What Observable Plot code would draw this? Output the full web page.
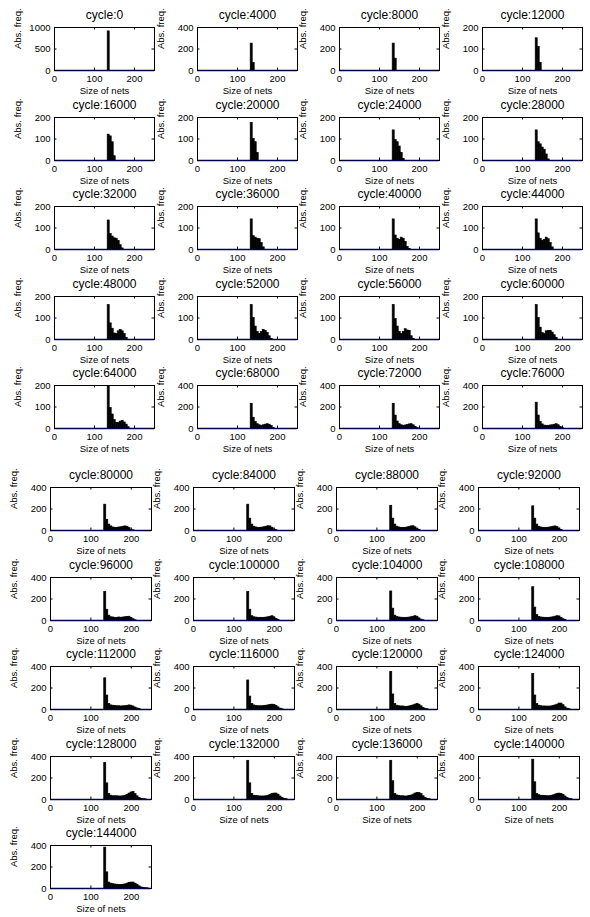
<!DOCTYPE html>
<html><head><meta charset="utf-8">
<script src="https://cdn.jsdelivr.net/npm/d3@7"></script>
<script src="https://cdn.jsdelivr.net/npm/@observablehq/plot@0.6"></script>
<style>
body{margin:0;background:#fff;}
#chart{position:relative;width:590px;height:917px;overflow:hidden;background:#fff;}
#chart svg{position:absolute;overflow:visible;background:transparent;}
</style></head><body><div id="chart"></div>
<script>
// ---- data ----
const cycles = [0,4000,8000,12000,16000,20000,24000,28000,32000,36000,40000,44000,48000,52000,56000,60000,64000,68000,72000,76000,
  80000,84000,88000,92000,96000,100000,104000,108000,112000,116000,120000,124000,128000,132000,136000,140000,144000];
const binStart = [133,138,143,148,153,158,163,168,173,178,183,188,193,198,203,208,213,218,223,228,233,238,243,248];
const binWidth = 5;
const yMax = [1000,400,400,200, 200,200,200,200, 200,200,200,200, 200,200,200,200, 200,400,400,400,
  400,400,400,400, 400,400,400,400, 400,400,400,400, 400,400,400,400, 400];
const xTicks = [0,100,200];
const yTicks1000 = [0,500,1000];
const yTicks400 = [0,200,400];
const yTicks200 = [0,100,200];

const h0 = [910];
const h4000 = [250,70];
const h8000 = [250,110];
const h12000 = [150,110,35];
const h16000 = [120,112,85,20];
const h20000 = [175,100,85,35];
const h24000 = [140,95,85,65,35,8];
const h28000 = [140,85,75,60,50,28,5];
const h32000 = [135,72,60,52,50,40,20,5];
const h36000 = [140,62,55,50,48,30,10];
const h40000 = [140,65,50,45,55,50,35,12,2];
const h44000 = [140,75,50,40,45,55,48,30,10];
const h48000 = [160,75,50,28,25,38,45,38,25,8];
const h52000 = [160,100,60,35,25,35,45,40,30,15,3];
const h56000 = [160,95,60,35,25,35,48,42,40,15,3];
const h60000 = [160,100,55,30,25,38,40,40,32,20,8];
const h64000 = [200,95,65,40,25,25,32,35,28,18,6];
const h68000 = [230,100,60,40,30,25,30,35,40,35,22,6];
const h72000 = [230,120,65,40,30,25,28,32,38,40,30,15,3];
const h76000 = [240,120,60,38,27,25,25,28,30,35,40,30,15,4];
const h80000 = [240,100,55,38,28,25,25,28,30,35,38,35,22,8,2];
const h84000 = [240,110,55,35,28,25,25,27,30,35,40,38,25,10,3];
const h88000 = [230,110,55,35,28,25,25,25,28,32,38,40,30,15,4];
const h92000 = [225,110,55,35,28,25,25,25,27,30,35,38,32,18,5];
const h96000 = [265,100,45,30,28,25,25,28,25,28,30,33,35,25,12,3];
const h100000 = [265,100,40,30,27,25,25,25,25,27,30,35,40,30,15,5];
const h104000 = [270,110,45,32,28,26,25,25,25,27,30,35,40,35,20,8,2];
const h108000 = [310,120,50,33,28,26,25,25,25,27,30,35,40,38,25,12,4];
const h112000 = [290,130,50,38,35,33,30,30,28,30,30,33,38,35,28,18,10,4];
const h116000 = [270,120,50,38,33,30,30,30,32,35,38,42,45,42,32,20,8,2];
const h120000 = [350,140,50,35,30,28,28,25,25,28,32,38,45,52,45,30,15,5,2];
const h124000 = [330,130,50,35,30,28,28,27,27,28,32,38,45,55,55,40,20,8,3];
const h128000 = [340,150,50,35,30,30,30,28,28,30,35,42,55,65,70,50,30,15,6,3,2];
const h132000 = [360,150,50,35,32,30,28,28,28,30,35,42,50,55,55,45,28,14,6,3];
const h136000 = [360,170,50,38,33,30,30,28,28,32,36,45,55,60,60,50,30,14,6,3];
const h140000 = [370,160,50,40,35,33,32,30,30,33,38,45,52,55,52,42,28,14,6,3];
const h144000 = [380,150,55,45,40,37,35,33,32,35,38,45,52,55,55,45,35,20,10,5,3,2];

const counts = [h0,h4000,h8000,h12000,h16000,h20000,h24000,h28000,h32000,h36000,h40000,h44000,h48000,h52000,h56000,h60000,
  h64000,h68000,h72000,h76000,h80000,h84000,h88000,h92000,h96000,h100000,h104000,h108000,h112000,h116000,h120000,h124000,
  h128000,h132000,h136000,h140000,h144000];

// ---- layout ----
const FONT = '"Liberation Sans", Arial, Helvetica, sans-serif';
const figLayout = [
  {first: 0, n: 20, lefts: [54,197,339,482], fw: 100, top0: 27},
  {first: 20, n: 17, lefts: [50,193,336,478], fw: 101, top0: 487}
];
const rowStep = 89.5, fh = 43;
const ML = 46, MR = 6, MT = 24, MB = 30;
const chart = document.getElementById("chart");

figLayout.forEach(fig => {
  for (let j = 0; j < fig.n; j++) {
    const i = fig.first + j;
    const row = Math.floor(j / 4), col = j % 4;
    const left = fig.lefts[col], top = fig.top0 + row * rowStep;
    const fw = fig.fw;
    const ym = yMax[i];
    const yt = ym === 1000 ? yTicks1000 : ym === 400 ? yTicks400 : yTicks200;
    const bins = counts[i].map((v, k) => ({x1: binStart[k], x2: binStart[k] + binWidth, y: v}));
    const svg = Plot.plot({
      width: ML + fw + MR, height: MT + fh + MB,
      marginLeft: ML, marginRight: MR, marginTop: MT, marginBottom: MB,
      style: {fontFamily: FONT, fontSize: "9.5px", color: "#000", background: "transparent", overflow: "visible"},
      x: {domain: [0, 250], label: null},
      y: {domain: [0, ym], label: null},
      marks: [
        Plot.rectY(bins, {x1: "x1", x2: "x2", y: "y", fill: "#000", stroke: "#000", strokeWidth: 0.7, inset: 0, clip: true}),
        Plot.frame({stroke: "#000", strokeWidth: 1}),
        Plot.ruleY([0], {stroke: "#000050", strokeWidth: 1.4}),
        Plot.tickX(xTicks, {x: d => d, insetTop: fh - 2.5, stroke: "#000"}),
        Plot.tickX(xTicks, {x: d => d, insetBottom: fh - 2.5, stroke: "#000"}),
        Plot.tickY(yt, {y: d => d, insetRight: fw - 2.5, stroke: "#000"}),
        Plot.tickY(yt, {y: d => d, insetLeft: fw - 2.5, stroke: "#000"}),
        Plot.axisX(xTicks, {tickSize: 0, tickPadding: 5, label: null, tickFormat: d => String(d), fontSize: 9.5}),
        Plot.axisY(yt, {tickSize: 0, tickPadding: 4, label: null, tickFormat: d => String(d), fontSize: 9.5}),
        Plot.text([`cycle:${cycles[i]}`], {text: d => d, frameAnchor: "top", dy: -12, lineAnchor: "middle", fontSize: 12}),
        Plot.text(["Size of nets"], {text: d => d, frameAnchor: "bottom", dy: 20, lineAnchor: "middle", fontSize: 9.5}),
        Plot.text(["Abs. freq."], {text: d => d, frameAnchor: "left", dx: -37, rotate: -90, lineAnchor: "middle", fontSize: 9.5})
      ]
    });
    svg.style.left = (left - ML) + "px";
    svg.style.top = (top - MT) + "px";
    chart.appendChild(svg);
  }
});
</script></body></html>
